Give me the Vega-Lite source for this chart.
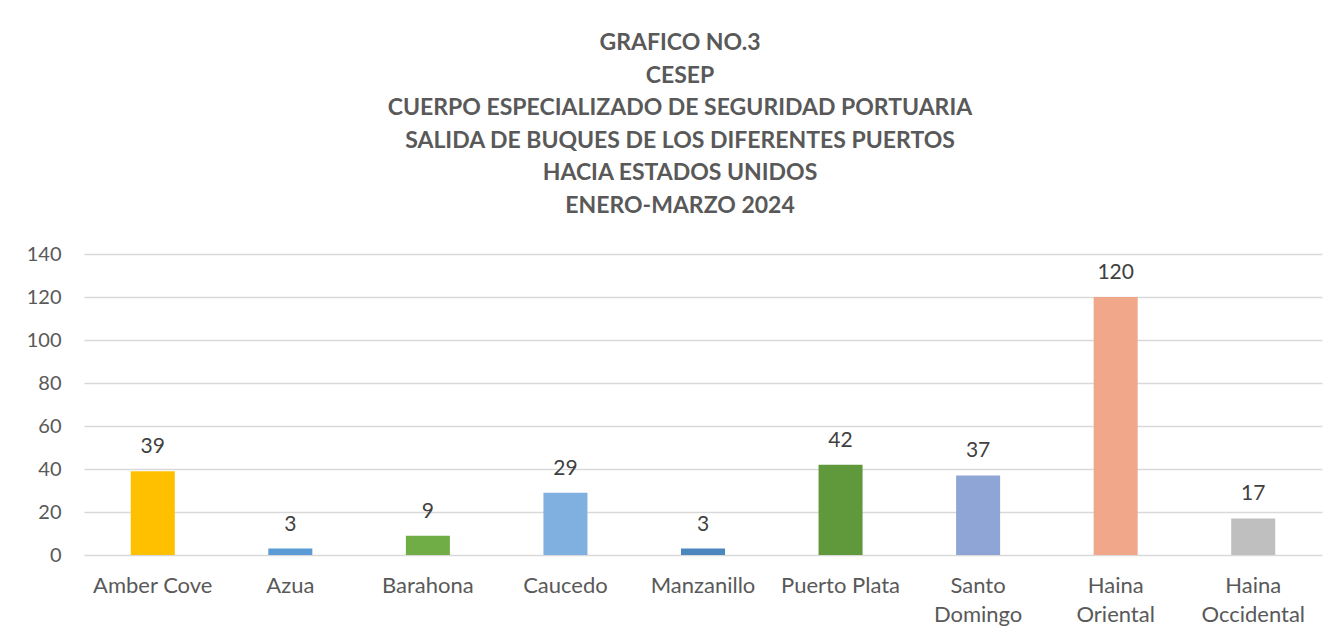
{
  "$schema": "https://vega.github.io/schema/vega-lite/v6.json",
  "width": 1238,
  "height": 301,
  "autosize": {"type": "none"},
  "padding": {"left": 84, "top": 254, "right": 16, "bottom": 86},
  "background": "white",
  "title": {
    "text": [
      "GRAFICO NO.3",
      "CESEP",
      "CUERPO ESPECIALIZADO DE SEGURIDAD PORTUARIA",
      "SALIDA DE BUQUES DE LOS DIFERENTES PUERTOS",
      "HACIA ESTADOS UNIDOS",
      "ENERO-MARZO 2024"
    ],
    "anchor": "middle",
    "font": "Lato",
    "fontSize": 23,
    "fontWeight": "bold",
    "color": "#595959",
    "lineHeight": 32.6,
    "dx": -23,
    "offset": 26
  },
  "data": {
    "values": [
      {"puerto": "Amber Cove", "salidas": 39},
      {"puerto": "Azua", "salidas": 3},
      {"puerto": "Barahona", "salidas": 9},
      {"puerto": "Caucedo", "salidas": 29},
      {"puerto": "Manzanillo", "salidas": 3},
      {"puerto": "Puerto Plata", "salidas": 42},
      {"puerto": "Santo Domingo", "salidas": 37},
      {"puerto": "Haina Oriental", "salidas": 120},
      {"puerto": "Haina Occidental", "salidas": 17}
    ]
  },
  "encoding": {
    "x": {
      "field": "puerto",
      "type": "nominal",
      "sort": null,
      "scale": {"paddingInner": 0.68, "paddingOuter": 0.34},
      "axis": {
        "title": null,
        "labelAngle": 0,
        "domain": false,
        "ticks": false,
        "labelFont": "Lato",
        "labelFontSize": 22,
        "labelColor": "#595959",
        "labelBaseline": "top",
        "labelPadding": 20,
        "labelLineHeight": 29,
        "labelExpr": "indexof(['Santo Domingo', 'Haina Oriental', 'Haina Occidental'], datum.label) >= 0 ? split(datum.label, ' ') : datum.label"
      }
    },
    "y": {
      "field": "salidas",
      "type": "quantitative",
      "scale": {"domain": [0, 140], "nice": false},
      "axis": {
        "title": null,
        "values": [0, 20, 40, 60, 80, 100, 120, 140],
        "domain": false,
        "ticks": false,
        "grid": true,
        "gridColor": "#D9D9D9",
        "gridWidth": 1.4,
        "labelFont": "Lato",
        "labelFontSize": 20,
        "labelColor": "#595959",
        "labelPadding": 23
      }
    }
  },
  "layer": [
    {
      "mark": {"type": "bar"},
      "encoding": {
        "color": {
          "field": "puerto",
          "type": "nominal",
          "legend": null,
          "scale": {
            "domain": ["Amber Cove", "Azua", "Barahona", "Caucedo", "Manzanillo", "Puerto Plata", "Santo Domingo", "Haina Oriental", "Haina Occidental"],
            "range": ["#FFC000", "#5B9BD5", "#70AD47", "#7FB0DF", "#4C86BE", "#5F993C", "#8FA5D5", "#F1A88A", "#BFBFBF"]
          }
        }
      }
    },
    {
      "mark": {"type": "text", "baseline": "alphabetic", "dy": -18, "font": "Lato", "fontSize": 21, "color": "#404040"},
      "encoding": {
        "text": {"field": "salidas", "type": "quantitative"}
      }
    }
  ],
  "config": {
    "view": {"stroke": null}
  }
}
